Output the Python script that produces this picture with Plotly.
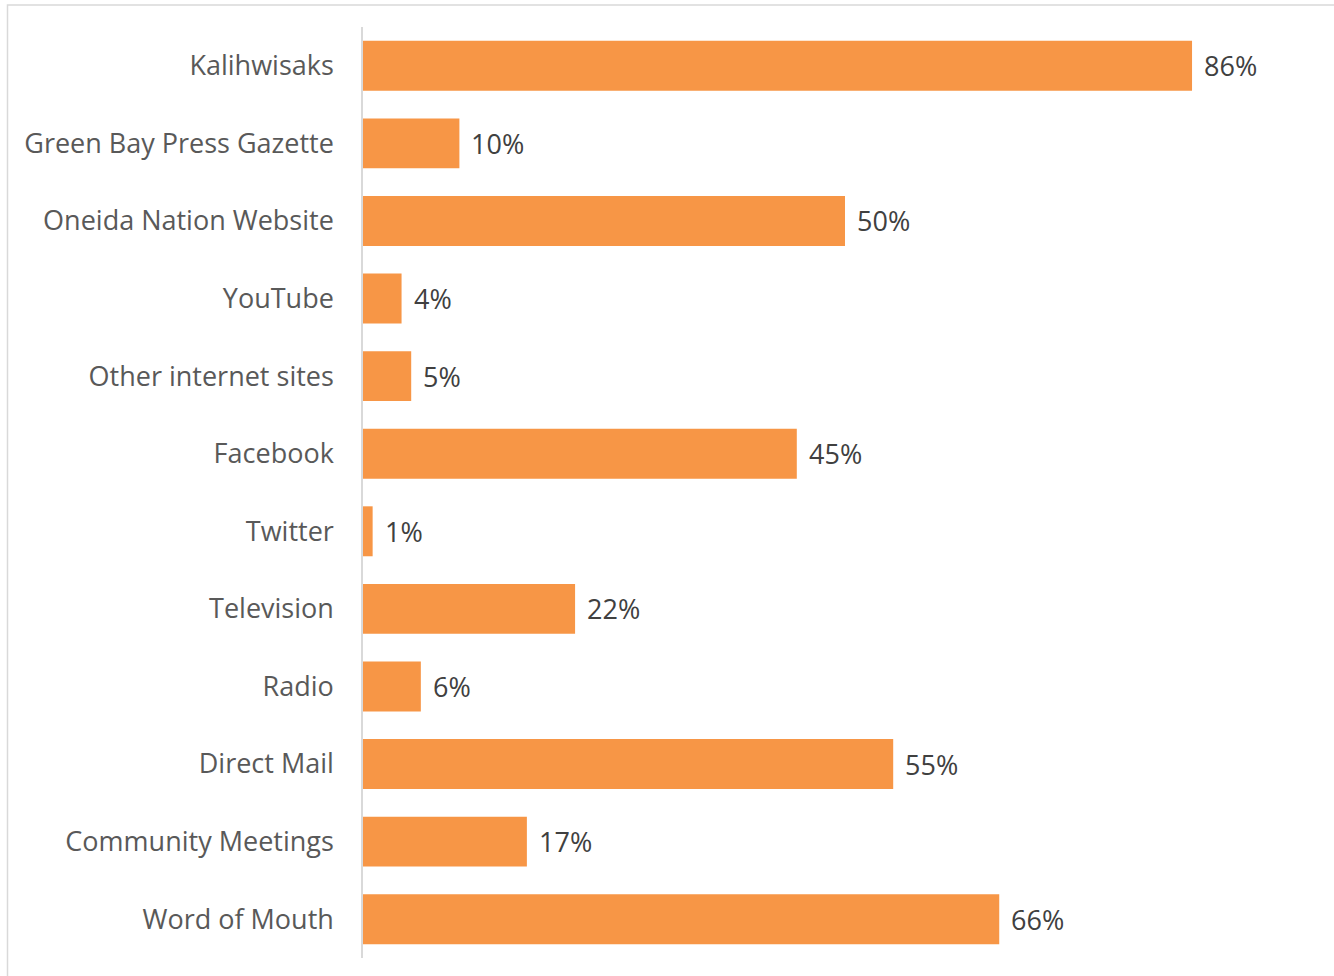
import plotly.graph_objects as go

categories = ["Kalihwisaks", "Green Bay Press Gazette", "Oneida Nation Website", "YouTube",
              "Other internet sites", "Facebook", "Twitter", "Television", "Radio",
              "Direct Mail", "Community Meetings", "Word of Mouth"]
values = [86, 10, 50, 4, 5, 45, 1, 22, 6, 55, 17, 66]
value_labels = [f"{v}%" for v in values]

W, H = 1334, 976
L, R, T, B = 363, 7, 27, 18
pw, ph = W - L - R, H - T - B
FONT = "Open Sans"

fig = go.Figure(go.Bar(
    x=values, y=categories, orientation="h",
    marker=dict(color="#F79646", line=dict(width=0)),
    hoverinfo="skip",
))

for c, v, lab in zip(categories, values, value_labels):
    fig.add_annotation(x=v, y=c, text=lab, showarrow=False, xanchor="left",
                       xshift=10, font=dict(family=FONT, size=27, color="#404040"))

def px_x(p):
    return (p - L) / pw

def px_y(p):
    return (H - B - p) / ph

fig.add_shape(type="rect", xref="paper", yref="paper",
              x0=px_x(7.5), x1=px_x(1345), y0=px_y(990), y1=px_y(5),
              line=dict(color="#d9d9d9", width=1.5), fillcolor="rgba(0,0,0,0)", layer="below")

fig.update_layout(
    width=W, height=H,
    margin=dict(l=L, r=R, t=T, b=B),
    paper_bgcolor="white", plot_bgcolor="white",
    bargap=0.356,
    showlegend=False,
    xaxis=dict(range=[0, 100], showgrid=False, showticklabels=False, zeroline=False,
               showline=False, fixedrange=True),
    yaxis=dict(autorange="reversed", showgrid=False, showline=True, linecolor="#d9d9d9",
               linewidth=1.5, ticks="", ticklabelstandoff=22, fixedrange=True,
               tickfont=dict(family=FONT, size=27, color="#595959")),
)

fig.write_html("out.html", config={"displayModeBar": False},
               post_script="document.body.style.margin='0';")
